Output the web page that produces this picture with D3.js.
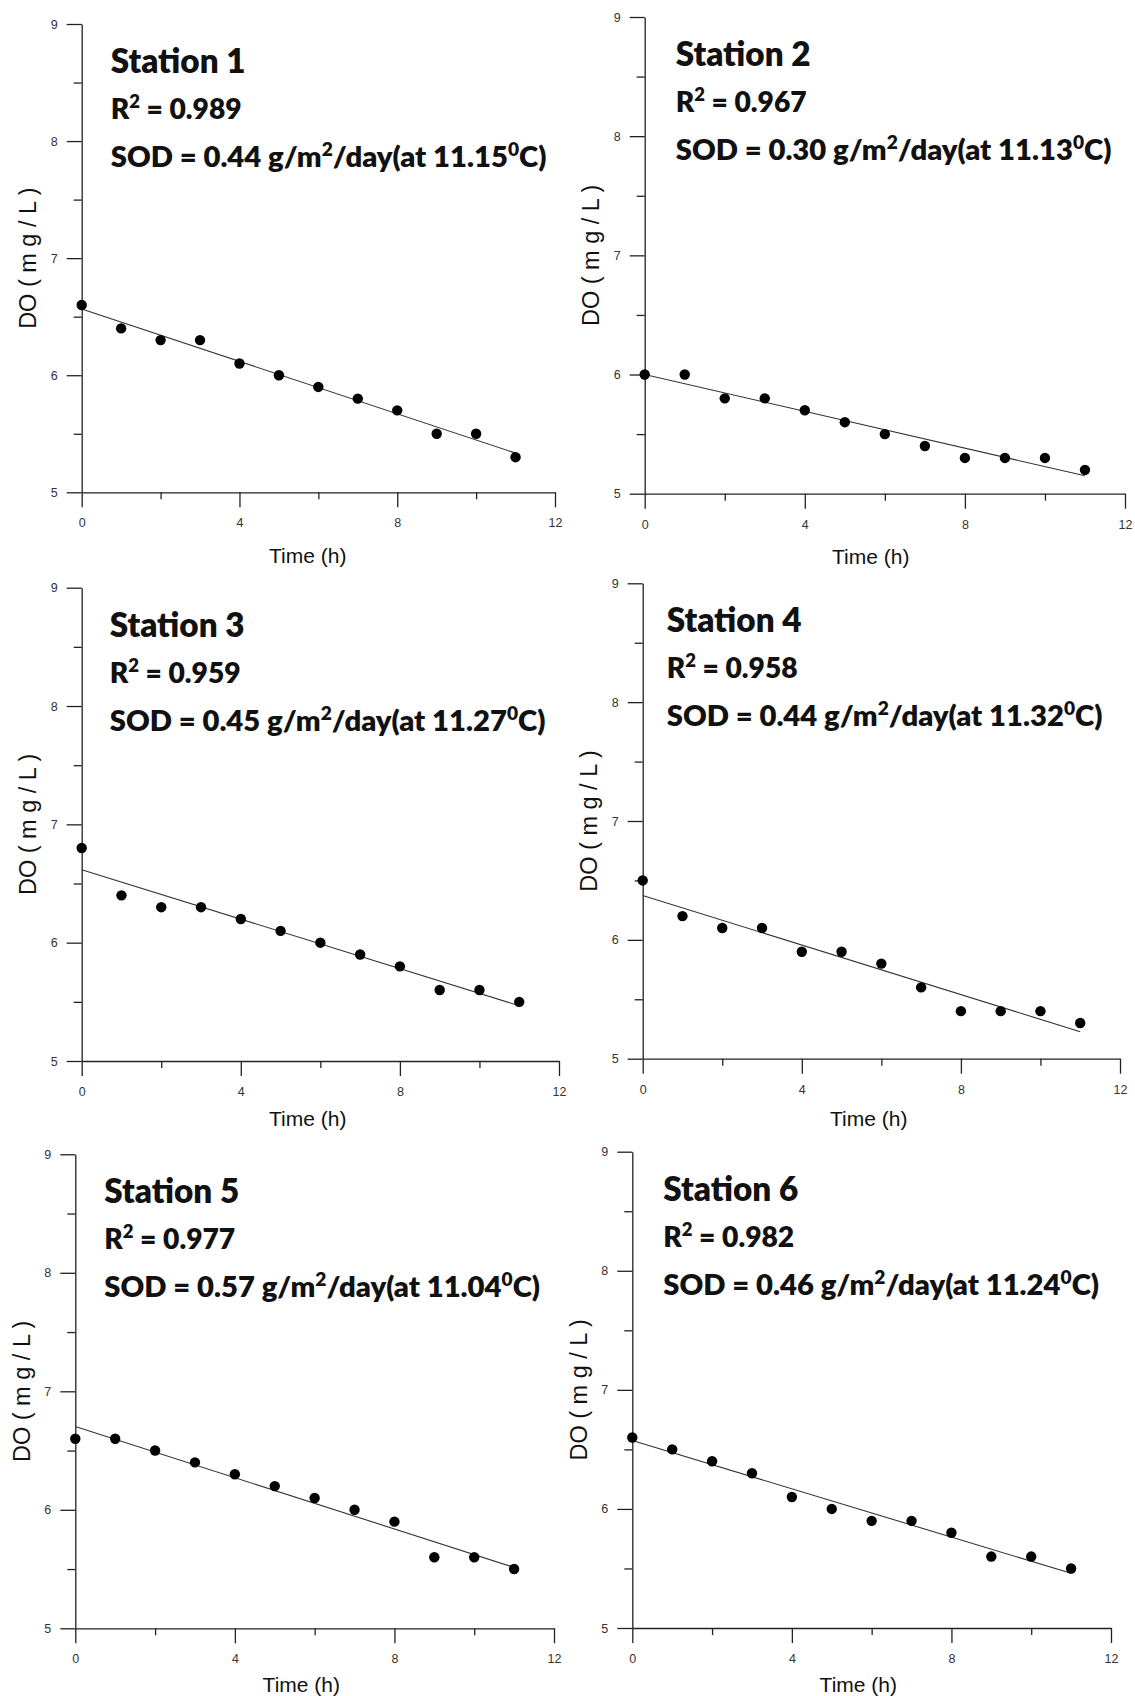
<!DOCTYPE html>
<html><head><meta charset="utf-8">
<script src="https://cdn.jsdelivr.net/npm/d3@7"></script>
<style>body{margin:0;background:#fff}</style>
</head><body>
<svg id="chart" width="1135" height="1696" style="background:#fff"></svg>
<script>
// ---------------- data ----------------
const hours = [0, 1, 2, 3, 4, 5, 6, 7, 8, 9, 10, 11];
const station1 = [6.6, 6.4, 6.3, 6.3, 6.1, 6.0, 5.9, 5.8, 5.7, 5.5, 5.5, 5.3];
const station2 = [6.0, 6.0, 5.8, 5.8, 5.7, 5.6, 5.5, 5.4, 5.3, 5.3, 5.3, 5.2];
const station3 = [6.8, 6.4, 6.3, 6.3, 6.2, 6.1, 6.0, 5.9, 5.8, 5.6, 5.6, 5.5];
const station4 = [6.5, 6.2, 6.1, 6.1, 5.9, 5.9, 5.8, 5.6, 5.4, 5.4, 5.4, 5.3];
const station5 = [6.6, 6.6, 6.5, 6.4, 6.3, 6.2, 6.1, 6.0, 5.9, 5.6, 5.6, 5.5];
const station6 = [6.6, 6.5, 6.4, 6.3, 6.1, 6.0, 5.9, 5.9, 5.8, 5.6, 5.6, 5.5];
const stationNames = ["Station 1", "Station 2", "Station 3", "Station 4", "Station 5", "Station 6"];
const r2Values = ["0.989", "0.967", "0.959", "0.958", "0.977", "0.982"];
const sodValues = ["0.44", "0.30", "0.45", "0.44", "0.57", "0.46"];
const tempValues = ["11.15", "11.13", "11.27", "11.32", "11.04", "11.24"];
const xTicks = [0, 4, 8, 12];
const xMinorTicks = [2, 6, 10];
const yTicks = [5, 6, 7, 8, 9];
const yMinorTicks = [5.5, 6.5, 7.5, 8.5];
const xDomain = [0, 12];
const yDomain = [5, 9];
const xLabel = "Time (h)";
const yLabel = "DO ( m g / L )";

const series = [station1, station2, station3, station4, station5, station6];

// ---------------- layout ----------------
const layout = [
  {x0: 81.7,  x1: 555,  yT: 24,    yB: 492.3,  tx: 29, xl: 71},
  {x0: 644.7, x1: 1125, yT: 17,    yB: 493.7,  tx: 31, xl: 70},
  {x0: 81.7,  x1: 559,  yT: 587.7, yB: 1061,   tx: 28, xl: 65},
  {x0: 642.7, x1: 1120, yT: 583.3, yB: 1058.7, tx: 24, xl: 67},
  {x0: 75.3,  x1: 554,  yT: 1154.3,yB: 1628.3, tx: 29, xl: 64},
  {x0: 632.3, x1: 1111, yT: 1151.7,yB: 1628,   tx: 31, xl: 64}
];

const svg = d3.select("#chart");
const axisColor = "#222";
const tickFont = "'Liberation Sans', Arial, sans-serif";
const annFont = "Lato, 'Open Sans', sans-serif";

function fit(xs, ys) {
  const n = xs.length;
  const mx = d3.mean(xs), my = d3.mean(ys);
  let sxy = 0, sxx = 0;
  for (let i = 0; i < n; i++) { sxy += (xs[i]-mx)*(ys[i]-my); sxx += (xs[i]-mx)*(xs[i]-mx); }
  const b = sxy / sxx;
  return {b, a: my - b*mx};
}

function styleAxis(g) {
  g.selectAll("path.domain").attr("stroke", axisColor).attr("stroke-width", 1.3);
  g.selectAll(".tick line").attr("stroke", axisColor).attr("stroke-width", 1.3);
  g.selectAll(".tick text").attr("fill", "#333").attr("font-family", tickFont).attr("font-size", 12.5);
}

function placeText(g, x, y, targetW, build) {
  const t = g.append("text").attr("x", 0).attr("y", 0)
    .attr("font-family", annFont).attr("font-weight", 800).attr("fill", "#111");
  build(t);
  const w = t.node().getComputedTextLength();
  t.attr("transform", `translate(${x},${y}) scale(${targetW / w},1)`);
}

series.forEach((vals, i) => {
  const L = layout[i];
  const g = svg.append("g");
  const x = d3.scaleLinear().domain(xDomain).range([L.x0, L.x1]);
  const y = d3.scaleLinear().domain(yDomain).range([L.yB, L.yT]);

  // minor ticks
  g.append("g").attr("transform", `translate(${L.x0},0)`)
    .call(d3.axisLeft(y).tickValues(yMinorTicks).tickSize(8).tickFormat(""))
    .call(a => a.select(".domain").remove()).call(styleAxis);
  g.append("g").attr("transform", `translate(0,${L.yB})`)
    .call(d3.axisBottom(x).tickValues(xMinorTicks).tickSize(7).tickFormat(""))
    .call(a => a.select(".domain").remove()).call(styleAxis);

  // major axes
  g.append("g").attr("transform", `translate(${L.x0},0)`)
    .call(d3.axisLeft(y).tickValues(yTicks).tickSize(15).tickSizeOuter(0).tickPadding(9).tickFormat(d3.format("d")))
    .call(styleAxis);
  g.append("g").attr("transform", `translate(0,${L.yB})`)
    .call(d3.axisBottom(x).tickValues(xTicks).tickSize(15).tickSizeOuter(0).tickPadding(11).tickFormat(d3.format("d")))
    .call(styleAxis);

  // axis labels
  g.append("text").attr("x", (L.x0 + 226)).attr("y", L.yB + L.xl)
    .attr("text-anchor", "middle").attr("font-family", tickFont).attr("font-size", 21)
    .attr("fill", "#111").text(xLabel);
  g.append("text")
    .attr("transform", `translate(${L.x0 - 54},${(L.yB + L.yT) / 2}) rotate(-90)`)
    .attr("text-anchor", "middle").attr("dy", "0.36em")
    .attr("font-family", tickFont).attr("font-size", 23.5).attr("fill", "#111").text(yLabel);

  // regression line
  const f = fit(hours, vals);
  const xr = d3.extent(hours);
  g.append("path")
    .attr("d", d3.line().x(d => x(d)).y(d => y(f.a + f.b * d))(xr))
    .attr("stroke", "#333").attr("stroke-width", 1.1).attr("fill", "none");

  // points
  g.selectAll("circle").data(hours).join("circle")
    .attr("cx", d => x(d)).attr("cy", (d, j) => y(vals[j]))
    .attr("r", 5.2).attr("fill", "#000");

  // annotations
  const tx = L.x0 + L.tx;
  placeText(g, tx, L.yT + 49, 135, t => t.attr("font-size", 33).text(stationNames[i]));
  placeText(g, tx, L.yT + 95, 131, t => {
    t.attr("font-size", 29);
    t.append("tspan").text("R");
    t.append("tspan").attr("font-size", 19).attr("dy", -11).text("2");
    t.append("tspan").attr("dy", 11).text(" = " + r2Values[i]);
  });
  placeText(g, tx, L.yT + 143, 436, t => {
    t.attr("font-size", 29);
    t.append("tspan").text("SOD = " + sodValues[i] + " g/m");
    t.append("tspan").attr("font-size", 19).attr("dy", -11).text("2");
    t.append("tspan").attr("dy", 11).text("/day(at " + tempValues[i]);
    t.append("tspan").attr("font-size", 19).attr("dy", -11).text("0");
    t.append("tspan").attr("dy", 11).text("C)");
  });
});
</script>
</body></html>
